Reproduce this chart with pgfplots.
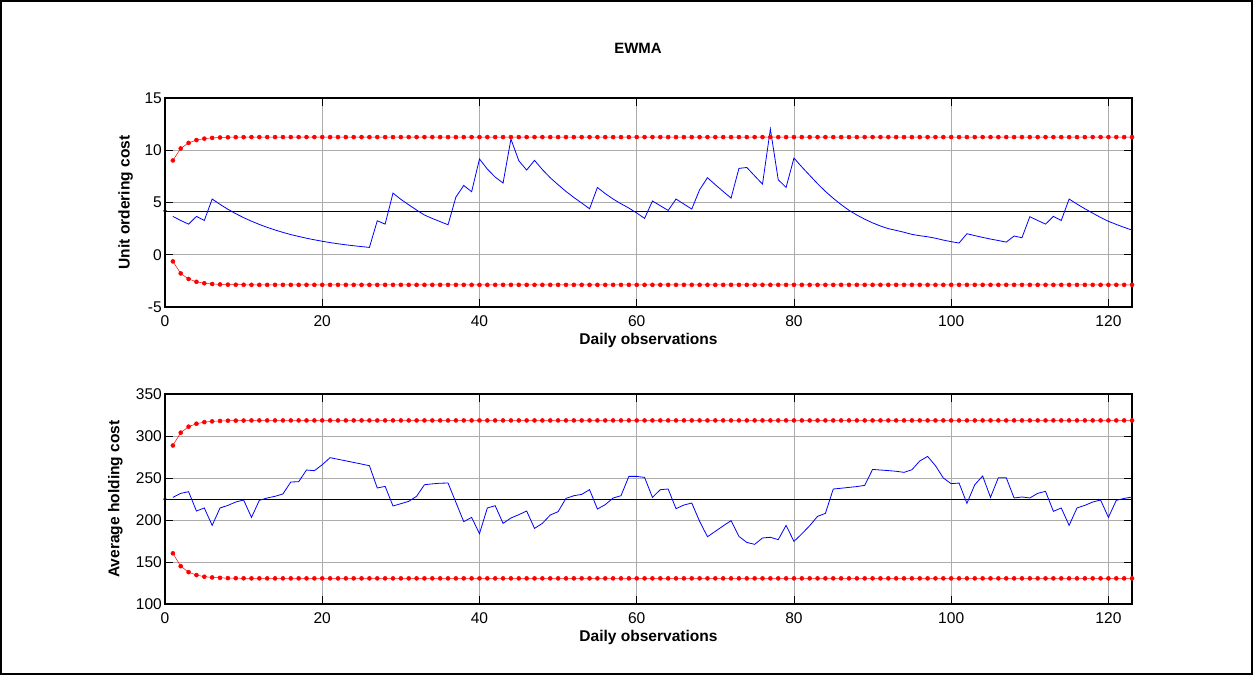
\documentclass[border=0pt]{standalone}
\usepackage{pgfplots}
\pgfplotsset{compat=1.18}
\usepackage{pgfplotstable}
\usepackage{fontspec}
\setmainfont{Liberation Sans}
\pgfplotstableread{
x z1 u1 l1 z2 u2 l2
1 3.67 9.02 -0.64 226.9 288.7 160.3
2 3.28 10.17 -1.79 231.7 304.0 145.0
3 2.93 10.70 -2.32 233.7 311.1 137.9
4 3.67 10.97 -2.59 210.7 314.6 134.4
5 3.28 11.11 -2.73 214.3 316.5 132.5
6 5.33 11.18 -2.80 193.6 317.4 131.6
7 4.82 11.22 -2.84 214.3 317.9 131.1
8 4.35 11.24 -2.86 217.4 318.2 130.8
9 3.93 11.25 -2.87 221.4 318.3 130.7
10 3.55 11.25 -2.87 223.8 318.4 130.6
11 3.21 11.26 -2.88 203.1 318.5 130.5
12 2.90 11.26 -2.88 223.4 318.5 130.5
13 2.62 11.26 -2.88 226.2 318.5 130.5
14 2.37 11.26 -2.88 228.2 318.5 130.5
15 2.14 11.26 -2.88 231.0 318.5 130.5
16 1.93 11.26 -2.88 245.2 318.5 130.5
17 1.75 11.26 -2.88 245.6 318.5 130.5
18 1.58 11.26 -2.88 259.5 318.5 130.5
19 1.43 11.26 -2.88 258.7 318.5 130.5
20 1.29 11.26 -2.88 265.8 318.5 130.5
21 1.16 11.26 -2.88 274.2 318.5 130.5
22 1.05 11.26 -2.88 272.3 318.5 130.5
23 0.95 11.26 -2.88 270.4 318.5 130.5
24 0.86 11.26 -2.88 268.5 318.5 130.5
25 0.78 11.26 -2.88 266.6 318.5 130.5
26 0.70 11.26 -2.88 264.6 318.5 130.5
27 3.25 11.26 -2.88 238.1 318.5 130.5
28 2.93 11.26 -2.88 240.0 318.5 130.5
29 5.90 11.26 -2.88 216.7 318.5 130.5
30 5.30 11.26 -2.88 219.4 318.5 130.5
31 4.78 11.26 -2.88 222.2 318.5 130.5
32 4.28 11.26 -2.88 228.2 318.5 130.5
33 3.80 11.26 -2.88 242.0 318.5 130.5
34 3.47 11.26 -2.88 243.0 318.5 130.5
35 3.17 11.26 -2.88 243.8 318.5 130.5
36 2.87 11.26 -2.88 244.0 318.5 130.5
37 5.52 11.26 -2.88 221.0 318.5 130.5
38 6.63 11.26 -2.88 198.0 318.5 130.5
39 6.03 11.26 -2.88 203.1 318.5 130.5
40 9.16 11.26 -2.88 183.7 318.5 130.5
41 8.20 11.26 -2.88 214.3 318.5 130.5
42 7.43 11.26 -2.88 217.0 318.5 130.5
43 6.86 11.26 -2.88 196.0 318.5 130.5
44 11.07 11.26 -2.88 202.4 318.5 130.5
45 9.00 11.26 -2.88 206.3 318.5 130.5
46 8.10 11.26 -2.88 210.7 318.5 130.5
47 9.03 11.26 -2.88 190.0 318.5 130.5
48 8.15 11.26 -2.88 196.0 318.5 130.5
49 7.37 11.26 -2.88 205.9 318.5 130.5
50 6.70 11.26 -2.88 209.9 318.5 130.5
51 6.06 11.26 -2.88 225.7 318.5 130.5
52 5.48 11.26 -2.88 228.9 318.5 130.5
53 4.95 11.26 -2.88 230.5 318.5 130.5
54 4.40 11.26 -2.88 236.1 318.5 130.5
55 6.44 11.26 -2.88 213.1 318.5 130.5
56 5.85 11.26 -2.88 218.3 318.5 130.5
57 5.33 11.26 -2.88 226.2 318.5 130.5
58 4.88 11.26 -2.88 228.9 318.5 130.5
59 4.47 11.26 -2.88 251.9 318.5 130.5
60 3.99 11.26 -2.88 251.9 318.5 130.5
61 3.48 11.26 -2.88 250.7 318.5 130.5
62 5.14 11.26 -2.88 226.9 318.5 130.5
63 4.69 11.26 -2.88 236.1 318.5 130.5
64 4.24 11.26 -2.88 236.9 318.5 130.5
65 5.33 11.26 -2.88 213.5 318.5 130.5
66 4.85 11.26 -2.88 217.8 318.5 130.5
67 4.37 11.26 -2.88 220.2 318.5 130.5
68 6.22 11.26 -2.88 198.4 318.5 130.5
69 7.37 11.26 -2.88 180.1 318.5 130.5
70 6.70 11.26 -2.88 186.5 318.5 130.5
71 6.05 11.26 -2.88 193.0 318.5 130.5
72 5.42 11.26 -2.88 199.2 318.5 130.5
73 8.26 11.26 -2.88 180.5 318.5 130.5
74 8.35 11.26 -2.88 173.3 318.5 130.5
75 7.55 11.26 -2.88 171.0 318.5 130.5
76 6.76 11.26 -2.88 178.6 318.5 130.5
77 12.03 11.26 -2.88 179.4 318.5 130.5
78 7.18 11.26 -2.88 176.6 318.5 130.5
79 6.44 11.26 -2.88 193.6 318.5 130.5
80 9.25 11.26 -2.88 174.5 318.5 130.5
81 8.40 11.26 -2.88 183.5 318.5 130.5
82 7.60 11.26 -2.88 193.2 318.5 130.5
83 6.80 11.26 -2.88 204.3 318.5 130.5
84 6.06 11.26 -2.88 207.9 318.5 130.5
85 5.40 11.26 -2.88 236.9 318.5 130.5
86 4.80 11.26 -2.88 237.8 318.5 130.5
87 4.25 11.26 -2.88 238.8 318.5 130.5
88 3.80 11.26 -2.88 239.8 318.5 130.5
89 3.40 11.26 -2.88 241.2 318.5 130.5
90 3.05 11.26 -2.88 260.2 318.5 130.5
91 2.75 11.26 -2.88 259.5 318.5 130.5
92 2.50 11.26 -2.88 258.8 318.5 130.5
93 2.33 11.26 -2.88 258.0 318.5 130.5
94 2.15 11.26 -2.88 256.7 318.5 130.5
95 1.95 11.26 -2.88 259.8 318.5 130.5
96 1.82 11.26 -2.88 270.2 318.5 130.5
97 1.72 11.26 -2.88 275.7 318.5 130.5
98 1.58 11.26 -2.88 264.6 318.5 130.5
99 1.40 11.26 -2.88 250.0 318.5 130.5
100 1.25 11.26 -2.88 243.2 318.5 130.5
101 1.12 11.26 -2.88 244.0 318.5 130.5
102 2.01 11.26 -2.88 219.8 318.5 130.5
103 1.83 11.26 -2.88 242.0 318.5 130.5
104 1.66 11.26 -2.88 252.4 318.5 130.5
105 1.50 11.26 -2.88 226.9 318.5 130.5
106 1.36 11.26 -2.88 250.4 318.5 130.5
107 1.21 11.26 -2.88 250.4 318.5 130.5
108 1.79 11.26 -2.88 226.2 318.5 130.5
109 1.63 11.26 -2.88 227.4 318.5 130.5
110 3.64 11.26 -2.88 226.2 318.5 130.5
111 3.28 11.26 -2.88 231.7 318.5 130.5
112 2.93 11.26 -2.88 234.1 318.5 130.5
113 3.67 11.26 -2.88 210.3 318.5 130.5
114 3.28 11.26 -2.88 214.3 318.5 130.5
115 5.33 11.26 -2.88 193.6 318.5 130.5
116 4.85 11.26 -2.88 214.3 318.5 130.5
117 4.40 11.26 -2.88 217.4 318.5 130.5
118 3.98 11.26 -2.88 221.4 318.5 130.5
119 3.57 11.26 -2.88 223.8 318.5 130.5
120 3.20 11.26 -2.88 203.1 318.5 130.5
121 2.90 11.26 -2.88 223.4 318.5 130.5
122 2.62 11.26 -2.88 225.7 318.5 130.5
123 2.36 11.26 -2.88 227.4 318.5 130.5
}\data
\pgfplotstableread{
x c1 c2
0 4.19 224.8
123 4.19 224.8
}\centre
\pgfplotsset{
  myax/.style={
    anchor=south west, scale only axis, width=967bp,
    xmin=0, xmax=123, xtick={0,20,40,60,80,100,120},
    grid=major, major grid style={gray!65, line width=0.6bp},
    axis line style={line width=1.1bp},
    tick style={black, line width=0.7bp},
    tick align=inside, major tick length=8bp,
    xtick pos=both, ytick pos=both,
    clip=false,
    /pgf/number format/assume math mode=true,
    ticklabel style={font=\fontsize{15.6}{18}\selectfont},
    xticklabel style={inner sep=0pt, anchor=north, yshift=-8.5bp},
    yticklabel style={inner sep=0pt, anchor=east, xshift=-3bp},
    label style={font=\bfseries\fontsize{15.6}{18}\selectfont},
    xlabel={Daily observations},
    xlabel style={at={(axis description cs:0.5,0)}, anchor=center, yshift=-33bp},
    ucl/.style={red, line width=0.5bp, mark=*, mark size=2bp, mark options={fill=red, draw=red}},
    ewma/.style={blue, line width=0.8bp},
    ctr/.style={black, line width=0.5bp},
  }
}
\begin{document}
\begin{tikzpicture}[x=1bp,y=1bp]
\useasboundingbox (0,0) rectangle (1253,675);
\draw[line width=1.5bp] (1,1) rectangle (1252,674);
\begin{axis}[myax, at={(165bp,368bp)}, height=209bp,
  ymin=-5, ymax=15, ytick={-5,0,5,10,15},
  ylabel={Unit ordering cost},
  ylabel style={at={(axis description cs:-0.0408,0.5)}, anchor=center}]
\addplot[ctr] table[x=x, y=c1]{\centre};
\addplot[black, only marks, mark=*, mark size=1.5bp] coordinates {(0,4.19)};
\addplot[ewma] table[x=x, y=z1]{\data};
\addplot[ucl] table[x=x, y=u1]{\data};
\addplot[ucl] table[x=x, y=l1]{\data};
\end{axis}
\begin{axis}[myax, at={(165bp,71bp)}, height=210bp,
  ymin=100, ymax=350, ytick={100,150,200,250,300,350},
  ylabel={Average holding cost},
  ylabel style={at={(axis description cs:-0.0512,0.5)}, anchor=center}]
\addplot[ctr] table[x=x, y=c2]{\centre};
\addplot[black, only marks, mark=*, mark size=1.5bp] coordinates {(0,224.8)};
\addplot[ewma] table[x=x, y=z2]{\data};
\addplot[ucl] table[x=x, y=u2]{\data};
\addplot[ucl] table[x=x, y=l2]{\data};
\end{axis}
\node[font=\bfseries\fontsize{15}{18}\selectfont] at (638,627) {EWMA};
\end{tikzpicture}
\end{document}
